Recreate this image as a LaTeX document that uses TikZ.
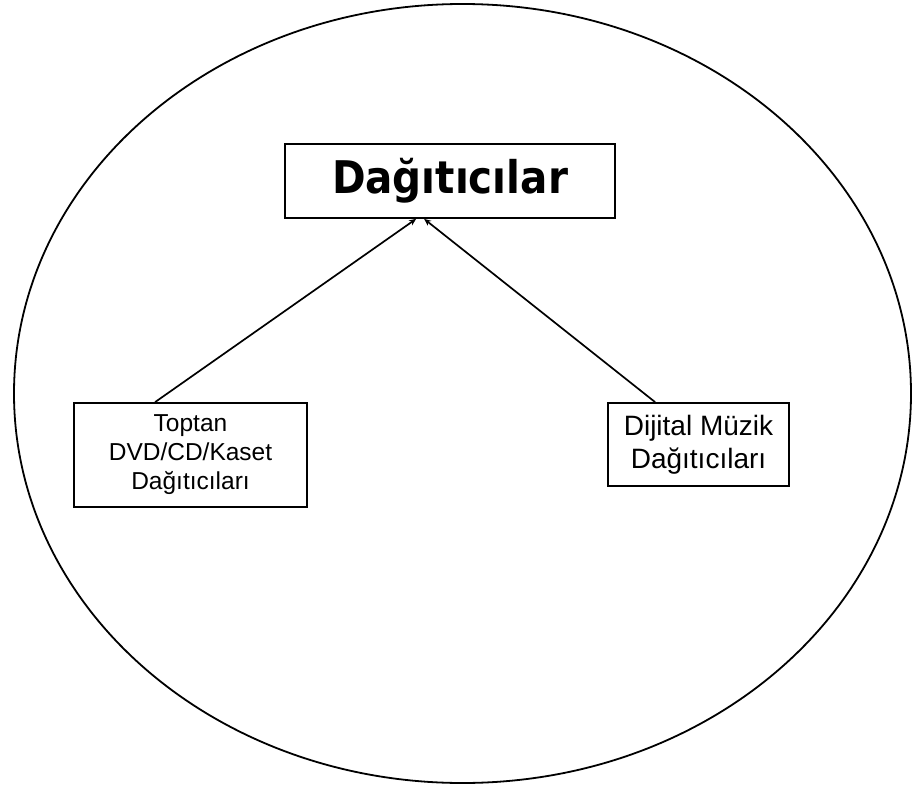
\documentclass[tikz,border=0pt]{standalone}
\usepackage{fontspec}
\setmainfont{Liberation Sans}
\newfontfamily\titlefont{DejaVu Sans Condensed}
\usetikzlibrary{arrows.meta}
\begin{document}
\begin{tikzpicture}[x=1pt,y=-1pt,
  frame/.style={draw=black,line width=1.8pt,fill=white,inner sep=0pt,align=center},
  link/.style={draw=black,line width=1.7pt,-{Stealth[length=7pt,width=6pt]}}]
\useasboundingbox (0,0) rectangle (918,789);
\fill[white] (0,0) rectangle (918,789);
% outer boundary
\draw[line width=1.8pt] (462.5,393.5) ellipse [x radius=448.5, y radius=389.5];
% boxes
\node[frame,minimum width=330pt,minimum height=74pt,
  font=\titlefont\bfseries\fontsize{45}{50}\selectfont] (top) at (450,181)
  {Dağıtıcılar};
\node[frame,minimum width=233pt,minimum height=104pt,
  font=\fontsize{24.5}{29}\selectfont] (wholesale) at (190.5,455)
  {Toptan\\DVD/CD/Kaset\\Dağıtıcıları};
\node[frame,minimum width=181pt,minimum height=83pt,
  font=\fontsize{28}{33}\selectfont] (digital) at (698.5,444.5)
  {Dijital Müzik\\Dağıtıcıları};
% connectors
\draw[link] ([xshift=82pt]wholesale.north west) -- ([xshift=132pt]top.south west);
\draw[link] ([xshift=48pt]digital.north west) -- ([xshift=140pt]top.south west);
\end{tikzpicture}
\end{document}
